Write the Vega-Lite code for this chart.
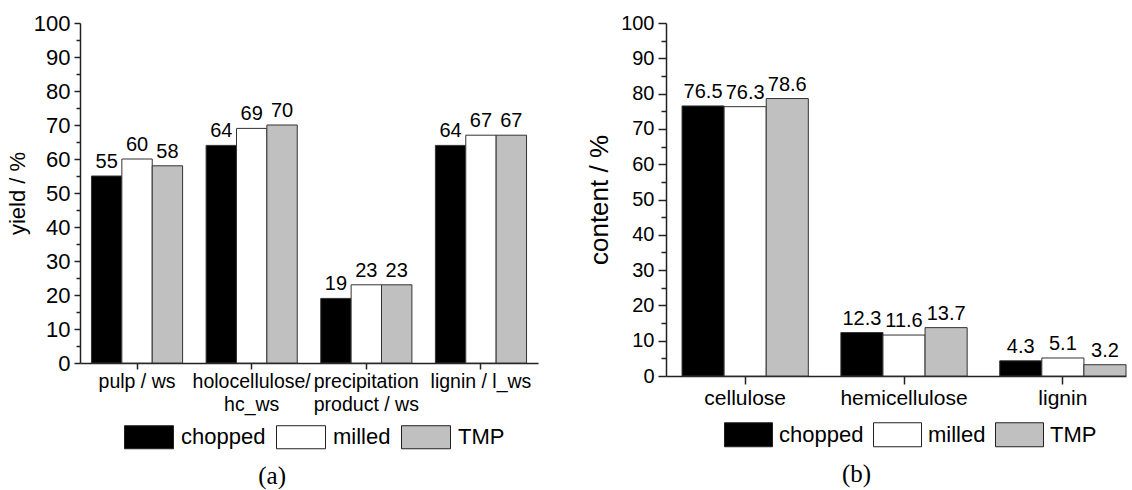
{
  "$schema": "https://vega.github.io/schema/vega-lite/v6.json",
  "background": "white",
  "padding": {"left": 6, "top": 12, "right": 0, "bottom": 0},
  "spacing": 48,
  "config": {
    "view": {"stroke": null},
    "font": "Liberation Sans",
    "axis": {"labelFont": "Liberation Sans", "titleFont": "Liberation Sans", "labelColor": "#000", "titleColor": "#000", "domainColor": "#222", "tickColor": "#222", "domainWidth": 1.5, "tickWidth": 1.5, "grid": false, "titleFontWeight": "normal"},
    "legend": {"labelFont": "Liberation Sans", "labelColor": "#000", "padding": 0, "title": null},
    "title": {"font": "Liberation Serif", "fontSize": 25, "fontWeight": "normal", "color": "#000"}
  },
  "datasets": {
    "a": [
      {"cat": "pulp / ws", "sample": "chopped", "value": 55},
      {"cat": "pulp / ws", "sample": "milled", "value": 60},
      {"cat": "pulp / ws", "sample": "TMP", "value": 58},
      {"cat": "holocellulose/\nhc_ws", "sample": "chopped", "value": 64},
      {"cat": "holocellulose/\nhc_ws", "sample": "milled", "value": 69},
      {"cat": "holocellulose/\nhc_ws", "sample": "TMP", "value": 70},
      {"cat": "precipitation\nproduct / ws", "sample": "chopped", "value": 19},
      {"cat": "precipitation\nproduct / ws", "sample": "milled", "value": 23},
      {"cat": "precipitation\nproduct / ws", "sample": "TMP", "value": 23},
      {"cat": "lignin / l_ws", "sample": "chopped", "value": 64},
      {"cat": "lignin / l_ws", "sample": "milled", "value": 67},
      {"cat": "lignin / l_ws", "sample": "TMP", "value": 67}
    ],
    "b": [
      {"cat": "cellulose", "sample": "chopped", "value": 76.5},
      {"cat": "cellulose", "sample": "milled", "value": 76.3},
      {"cat": "cellulose", "sample": "TMP", "value": 78.6},
      {"cat": "hemicellulose", "sample": "chopped", "value": 12.3},
      {"cat": "hemicellulose", "sample": "milled", "value": 11.6},
      {"cat": "hemicellulose", "sample": "TMP", "value": 13.7},
      {"cat": "lignin", "sample": "chopped", "value": 4.3},
      {"cat": "lignin", "sample": "milled", "value": 5.1},
      {"cat": "lignin", "sample": "TMP", "value": 3.2}
    ]
  },
  "hconcat": [
    {
      "width": 458,
      "height": 340,
      "title": {"text": "(a)", "orient": "bottom", "anchor": "middle", "frame": "bounds", "offset": 13},
      "data": {"name": "a"},
      "encoding": {
        "x": {"field": "cat", "type": "nominal", "sort": null,
          "scale": {"paddingInner": 0.205, "paddingOuter": 0.1, "align": 0.5},
          "axis": {"title": null, "labelAngle": 0, "labelExpr": "split(datum.label, '\\n')", "labelFontSize": 19.5, "labelLineHeight": 23, "labelPadding": 3, "tickSize": 6, "labelAlign": "center", "labelBaseline": "top"}},
        "xOffset": {"field": "sample", "type": "nominal", "sort": ["chopped", "milled", "TMP"], "scale": {"paddingInner": 0, "paddingOuter": 0}}
      },
      "layer": [
        {
          "mark": {"type": "bar", "stroke": "#333", "strokeWidth": 1},
          "encoding": {
            "y": {"field": "value", "type": "quantitative", "scale": {"domain": [0, 100], "nice": false},
              "axis": {"title": "yield / %", "values": [0, 10, 20, 30, 40, 50, 60, 70, 80, 90, 100], "tickSize": 6, "labelFontSize": 22, "titleFontSize": 22, "labelPadding": 4, "titlePadding": 4}},
            "color": {"field": "sample", "type": "nominal", "sort": ["chopped", "milled", "TMP"],
              "scale": {"domain": ["chopped", "milled", "TMP"], "range": ["#000000", "#ffffff", "#c0c0c0"]},
              "legend": {"orient": "none", "legendX": 44, "legendY": 389, "direction": "horizontal", "symbolType": "M-1,-0.47H1V0.47H-1Z", "symbolSize": 2401, "symbolStrokeColor": "#222", "symbolStrokeWidth": 1, "symbolOpacity": 1, "labelFontSize": 22, "labelOffset": 7, "columnPadding": 8}}
          }
        },
        {
          "mark": {"type": "text", "baseline": "alphabetic", "dy": -8, "fontSize": 20, "color": "#000", "font": "Liberation Sans"},
          "encoding": {
            "text": {"field": "value", "type": "quantitative", "format": "d"},
            "y": {"field": "value", "type": "quantitative", "scale": {"domain": [0, 100], "nice": false},
              "axis": {"orient": "left", "values": [5, 15, 25, 35, 45, 55, 65, 75, 85, 95], "tickSize": 4, "labels": false, "domain": false, "title": null}}
          }
        }
      ],
      "resolve": {"axis": {"y": "independent"}}
    },
    {
      "width": 460,
      "height": 353,
      "title": {"text": "(b)", "orient": "bottom", "anchor": "middle", "frame": "bounds", "offset": 13},
      "data": {"name": "b"},
      "encoding": {
        "x": {"field": "cat", "type": "nominal", "sort": null,
          "scale": {"paddingInner": 0.205, "paddingOuter": 0.0505, "align": 1},
          "axis": {"title": null, "labelAngle": 0, "labelFontSize": 21, "labelPadding": 3, "tickSize": 8, "labelAlign": "center", "labelBaseline": "top"}},
        "xOffset": {"field": "sample", "type": "nominal", "sort": ["chopped", "milled", "TMP"], "scale": {"paddingInner": 0, "paddingOuter": 0}}
      },
      "layer": [
        {
          "mark": {"type": "bar", "stroke": "#333", "strokeWidth": 1},
          "encoding": {
            "y": {"field": "value", "type": "quantitative", "scale": {"domain": [0, 100], "nice": false},
              "axis": {"title": "content / %", "values": [0, 10, 20, 30, 40, 50, 60, 70, 80, 90, 100], "tickSize": 8, "labelFontSize": 20, "titleFontSize": 26, "labelPadding": 4, "titlePadding": 8}},
            "color": {"field": "sample", "type": "nominal", "sort": ["chopped", "milled", "TMP"],
              "scale": {"domain": ["chopped", "milled", "TMP"], "range": ["#000000", "#ffffff", "#c0c0c0"]},
              "legend": {"orient": "none", "legendX": 58, "legendY": 387, "direction": "horizontal", "symbolType": "M-1,-0.5H1V0.5H-1Z", "symbolSize": 2304, "symbolStrokeColor": "#222", "symbolStrokeWidth": 1, "symbolOpacity": 1, "labelFontSize": 22, "labelOffset": 6, "columnPadding": 7}}
          }
        },
        {
          "mark": {"type": "text", "baseline": "alphabetic", "dy": -8, "fontSize": 20, "color": "#000", "font": "Liberation Sans"},
          "encoding": {
            "text": {"field": "value", "type": "quantitative", "format": ".1f"},
            "y": {"field": "value", "type": "quantitative", "scale": {"domain": [0, 100], "nice": false},
              "axis": {"orient": "left", "values": [5, 15, 25, 35, 45, 55, 65, 75, 85, 95], "tickSize": 5, "labels": false, "domain": false, "title": null}}
          }
        }
      ],
      "resolve": {"axis": {"y": "independent"}}
    }
  ],
  "resolve": {"scale": {"color": "independent", "x": "independent", "y": "independent", "xOffset": "independent"}, "legend": {"color": "independent"}}
}
